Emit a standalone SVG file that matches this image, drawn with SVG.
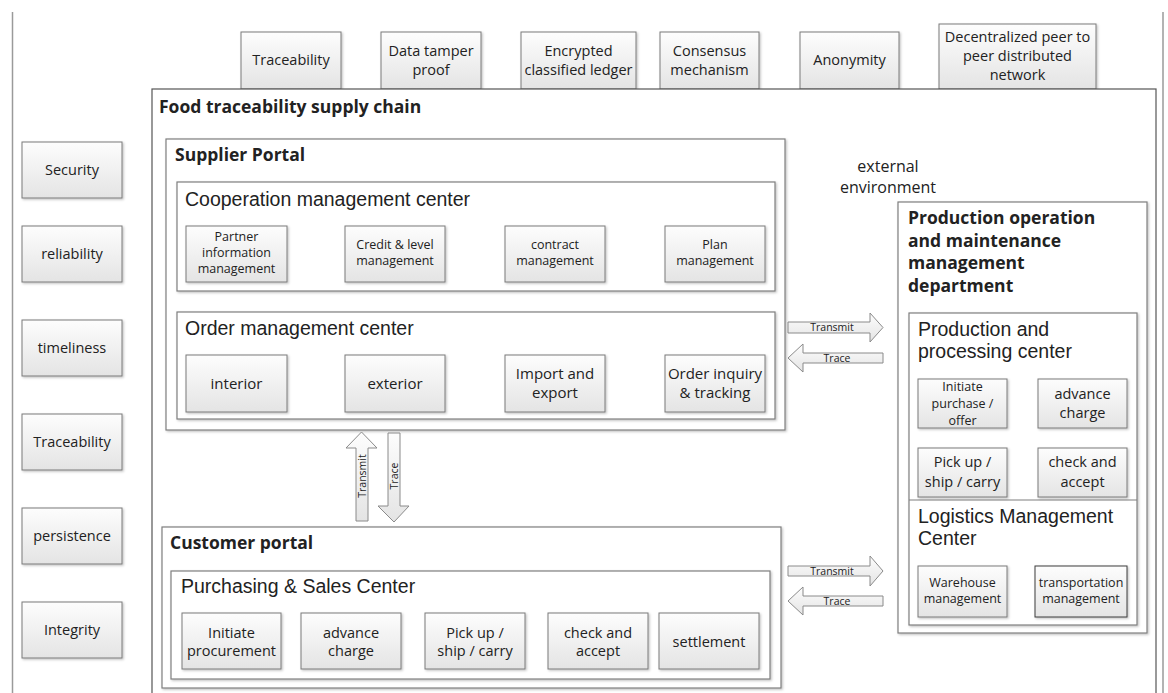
<svg xmlns="http://www.w3.org/2000/svg" width="1168" height="693" viewBox="0 0 1168 693">
<style>
text{font-family:"Open Sans","Liberation Sans",sans-serif;fill:#222}
.box{fill:url(#g);stroke:#7a7a7a;stroke-width:1;filter:url(#sh)}
.dbox{fill:url(#g);stroke:#3c3c3c;stroke-width:1;filter:url(#sh)}
.cont{fill:#fff;stroke:#7f7f7f;stroke-width:1.2;filter:url(#sh)}
.outer{fill:#fff;stroke:#555;stroke-width:1.2}
.arr{fill:url(#g);stroke:#8a8a8a;stroke-width:1}
.t14{font-size:14.5px;text-anchor:middle}
.t12{font-size:12.5px;text-anchor:middle}
.t15{font-size:15px;text-anchor:middle}
.hb{font-size:17.5px;font-weight:bold}
.h18{font-family:"Liberation Sans",Arial,sans-serif;font-size:19.5px}
.lbl{font-size:10.5px;text-anchor:middle}
.border{stroke:#9a9a9a;stroke-width:1.5;fill:none}
</style>
<defs>
<linearGradient id="g" x1="0" y1="0" x2="0" y2="1">
<stop offset="0" stop-color="#fdfdfd"/>
<stop offset="1" stop-color="#e4e4e4"/>
</linearGradient>
<filter id="sh" x="-5%" y="-5%" width="115%" height="115%">
<feDropShadow dx="1.2" dy="1.2" stdDeviation="0.8" flood-color="#000" flood-opacity="0.25"/>
</filter>
</defs>
<rect width="1168" height="693" fill="#fff"/>
<line class="border" x1="12.5" y1="12" x2="12.5" y2="693"/>
<line class="border" x1="1163" y1="12" x2="1163" y2="693"/>

<g id="top-traceability"><rect class="box" x="241" y="32" width="100" height="57"/><text class="t14" x="291" y="65">Traceability</text></g>
<g id="top-tamper"><rect class="box" x="381" y="32" width="100" height="57"/><text class="t14" x="431" y="56">Data tamper</text><text class="t14" x="431" y="75">proof</text></g>
<g id="top-ledger"><rect class="box" x="521" y="32" width="115" height="57"/><text class="t14" x="578.5" y="56">Encrypted</text><text class="t14" x="578.5" y="75">classified ledger</text></g>
<g id="top-consensus"><rect class="box" x="660" y="32" width="99" height="57"/><text class="t14" x="709.5" y="56">Consensus</text><text class="t14" x="709.5" y="75">mechanism</text></g>
<g id="top-anonymity"><rect class="box" x="800" y="32" width="99" height="57"/><text class="t14" x="849.5" y="65">Anonymity</text></g>
<g id="top-p2p"><rect class="box" x="939" y="24" width="157" height="65"/><text class="t14" x="1017.5" y="42">Decentralized peer to</text><text class="t14" x="1017.5" y="61">peer distributed</text><text class="t14" x="1017.5" y="80">network</text></g>

<g id="left-security"><rect class="box" x="22" y="142" width="100" height="56"/><text class="t14" x="72" y="175">Security</text></g>
<g id="left-reliability"><rect class="box" x="22" y="226" width="100" height="56"/><text class="t14" x="72" y="259">reliability</text></g>
<g id="left-timeliness"><rect class="box" x="22" y="320" width="100" height="56"/><text class="t14" x="72" y="353">timeliness</text></g>
<g id="left-traceability"><rect class="box" x="22" y="414" width="100" height="56"/><text class="t14" x="72" y="447">Traceability</text></g>
<g id="left-persistence"><rect class="box" x="22" y="508" width="100" height="56"/><text class="t14" x="72" y="541">persistence</text></g>
<g id="left-integrity"><rect class="box" x="22" y="602" width="100" height="56"/><text class="t14" x="72" y="635">Integrity</text></g>

<g id="food-chain">
<rect class="outer" x="152" y="89" width="1004" height="620"/>
<text class="hb" x="159" y="113">Food traceability supply chain</text>
<text x="888" y="172" style="font-size:16px;text-anchor:middle">external</text>
<text x="888" y="193" style="font-size:16px;text-anchor:middle">environment</text>
</g>

<g id="supplier-portal">
<rect class="cont" x="166" y="139" width="619" height="291"/>
<text class="hb" x="175" y="161">Supplier Portal</text>
</g>
<g id="cooperation-center">
<rect class="cont" x="177" y="182" width="598" height="109"/>
<text class="h18" x="185" y="206">Cooperation management center</text>
<rect class="box" x="186" y="226" width="101" height="56"/><text class="t12" x="236.5" y="241">Partner</text><text class="t12" x="236.5" y="257">information</text><text class="t12" x="236.5" y="273">management</text>
<rect class="box" x="345" y="226" width="100" height="56"/><text class="t12" x="395" y="249">Credit &amp; level</text><text class="t12" x="395" y="265">management</text>
<rect class="box" x="505" y="226" width="100" height="56"/><text class="t12" x="555" y="249">contract</text><text class="t12" x="555" y="265">management</text>
<rect class="box" x="665" y="226" width="100" height="56"/><text class="t12" x="715" y="249">Plan</text><text class="t12" x="715" y="265">management</text>
</g>
<g id="order-center">
<rect class="cont" x="177" y="312" width="598" height="107"/>
<text class="h18" x="185" y="335">Order management center</text>
<rect class="box" x="186" y="355" width="101" height="57"/><text class="t15" x="236.5" y="389">interior</text>
<rect class="box" x="345" y="355" width="100" height="57"/><text class="t15" x="395" y="389">exterior</text>
<rect class="box" x="505" y="355" width="100" height="57"/><text class="t15" x="555" y="379">Import and</text><text class="t15" x="555" y="398">export</text>
<rect class="box" x="665" y="355" width="100" height="57"/><text class="t15" x="715" y="379">Order inquiry</text><text class="t15" x="715" y="398">&amp; tracking</text>
</g>

<g id="customer-portal">
<rect class="cont" x="162" y="527" width="619" height="161"/>
<text class="hb" x="170" y="549">Customer portal</text>
</g>
<g id="purchasing-center">
<rect class="cont" x="171" y="571" width="599" height="108"/>
<text class="h18" x="181" y="593">Purchasing &amp; Sales Center</text>
<rect class="box" x="182" y="613" width="99" height="56"/><text class="t14" x="231.5" y="638">Initiate</text><text class="t14" x="231.5" y="656">procurement</text>
<rect class="box" x="301" y="613" width="100" height="56"/><text class="t14" x="351" y="638">advance</text><text class="t14" x="351" y="656">charge</text>
<rect class="box" x="425" y="613" width="100" height="56"/><text class="t14" x="475" y="638">Pick up /</text><text class="t14" x="475" y="656">ship / carry</text>
<rect class="box" x="548" y="613" width="100" height="56"/><text class="t14" x="598" y="638">check and</text><text class="t14" x="598" y="656">accept</text>
<rect class="box" x="659" y="613" width="100" height="56"/><text class="t14" x="709" y="647">settlement</text>
</g>

<g id="production-department">
<rect class="cont" x="898" y="202" width="249" height="431"/>
<text class="hb" x="908" y="224">Production operation</text>
<text class="hb" x="908" y="246.5">and maintenance</text>
<text class="hb" x="908" y="269">management</text>
<text class="hb" x="908" y="291.5">department</text>
</g>
<g id="production-center">
<rect class="cont" x="909" y="313" width="228" height="312"/>
<line x1="909" y1="500" x2="1137" y2="500" stroke="#7f7f7f" stroke-width="1.2"/>
<text class="h18" x="918" y="336">Production and</text>
<text class="h18" x="918" y="358">processing center</text>
<rect class="box" x="918" y="379" width="89" height="49"/><text class="t12" x="962.5" y="391">Initiate</text><text class="t12" x="962.5" y="408">purchase /</text><text class="t12" x="962.5" y="425">offer</text>
<rect class="box" x="1038" y="379" width="89" height="49"/><text class="t14" x="1082.5" y="399">advance</text><text class="t14" x="1082.5" y="418">charge</text>
<rect class="box" x="918" y="448" width="89" height="49"/><text class="t14" x="962.5" y="467">Pick up /</text><text class="t14" x="962.5" y="487">ship / carry</text>
<rect class="box" x="1038" y="448" width="89" height="49"/><text class="t14" x="1082.5" y="467">check and</text><text class="t14" x="1082.5" y="487">accept</text>
</g>
<g id="logistics-center">
<text class="h18" x="918" y="523">Logistics Management</text>
<text class="h18" x="918" y="545">Center</text>
<rect class="box" x="918" y="566" width="89" height="51"/><text class="t12" x="962.5" y="587">Warehouse</text><text class="t12" x="962.5" y="603">management</text>
<rect class="dbox" x="1035" y="566" width="92" height="51"/><text class="t12" x="1081" y="587">transportation</text><text class="t12" x="1081" y="603">management</text>
</g>

<g id="connectors">
<polygon class="arr" points="788,322 870,322 870,313 883,327.5 870,342 870,333 788,333"/>
<text class="lbl" x="832" y="331">Transmit</text>
<polygon class="arr" points="788,358 803,344 803,353 883,353 883,363 803,363 803,372"/>
<text class="lbl" x="837" y="362">Trace</text>
<polygon class="arr" points="788,566 870,566 870,556 883,571 870,586 870,576 788,576"/>
<text class="lbl" x="832" y="575">Transmit</text>
<polygon class="arr" points="788,601 803,587 803,596 883,596 883,606 803,606 803,615"/>
<text class="lbl" x="837" y="605">Trace</text>
<polygon class="arr" points="361.5,432 377,448 368,448 368,521 356,521 356,448 346,448"/>
<text class="lbl" transform="translate(365.5,476) rotate(-90)">Transmit</text>
<polygon class="arr" points="388,433 400,433 400,506 409,506 394,522 378,506 388,506"/>
<text class="lbl" transform="translate(397.5,476) rotate(-90)">Trace</text>
</g>
</svg>
